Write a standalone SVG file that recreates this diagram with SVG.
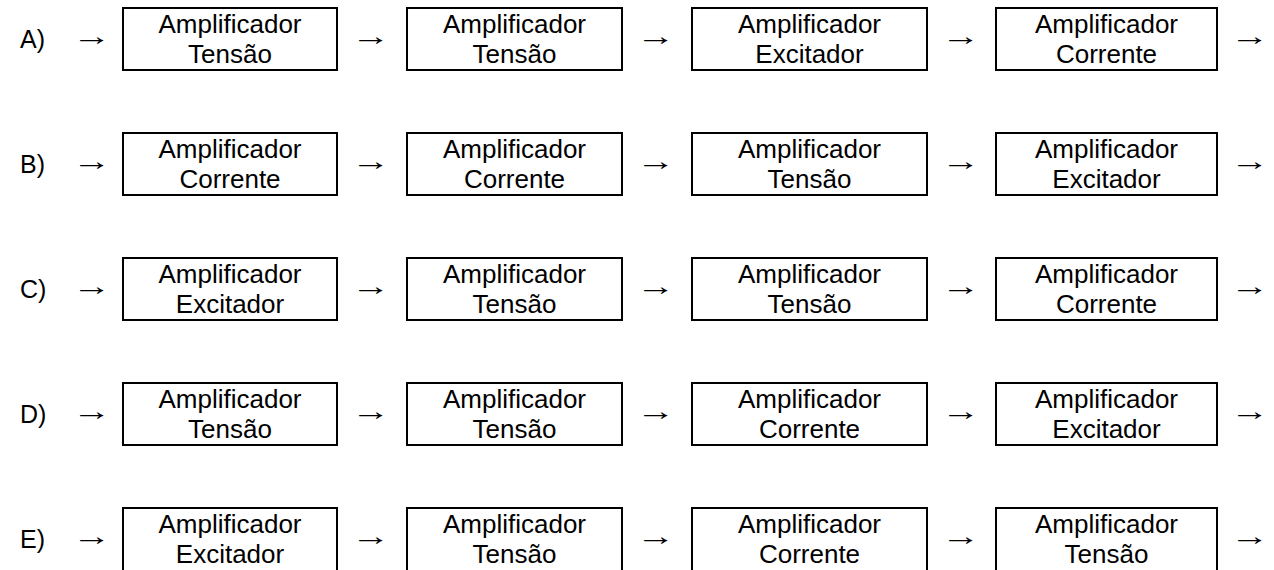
<svg xmlns="http://www.w3.org/2000/svg" xmlns:xlink="http://www.w3.org/1999/xlink" width="1274" height="570" viewBox="0 0 1274 570">
<style>
text{font-family:"Liberation Sans",Arial,sans-serif;font-size:26px;fill:#000}
.t{text-anchor:middle}
.lbl{font-size:25px}
.box{fill:#fff;stroke:#000;stroke-width:2}
</style>
<defs>
<text id="arr" text-anchor="middle" transform="scale(1.5,1)">→</text>
</defs>
<rect width="1274" height="570" fill="#fff"/>
<g id="labels">
<text class="lbl" x="20" y="48">A)</text>
<text class="lbl" x="20" y="173">B)</text>
<text class="lbl" x="20" y="298">C)</text>
<text class="lbl" x="20" y="423">D)</text>
<text class="lbl" x="20" y="548">E)</text>
</g>
<g id="connectors">
<g transform="translate(0,45)"><use href="#arr" transform="translate(92,0)"/><use href="#arr" transform="translate(371,0)"/><use href="#arr" transform="translate(656,0)"/><use href="#arr" transform="translate(961,0)"/><use href="#arr" transform="translate(1250,0)"/></g>
<g transform="translate(0,170)"><use href="#arr" transform="translate(92,0)"/><use href="#arr" transform="translate(371,0)"/><use href="#arr" transform="translate(656,0)"/><use href="#arr" transform="translate(961,0)"/><use href="#arr" transform="translate(1250,0)"/></g>
<g transform="translate(0,295)"><use href="#arr" transform="translate(92,0)"/><use href="#arr" transform="translate(371,0)"/><use href="#arr" transform="translate(656,0)"/><use href="#arr" transform="translate(961,0)"/><use href="#arr" transform="translate(1250,0)"/></g>
<g transform="translate(0,420)"><use href="#arr" transform="translate(92,0)"/><use href="#arr" transform="translate(371,0)"/><use href="#arr" transform="translate(656,0)"/><use href="#arr" transform="translate(961,0)"/><use href="#arr" transform="translate(1250,0)"/></g>
<g transform="translate(0,545)"><use href="#arr" transform="translate(92,0)"/><use href="#arr" transform="translate(371,0)"/><use href="#arr" transform="translate(656,0)"/><use href="#arr" transform="translate(961,0)"/><use href="#arr" transform="translate(1250,0)"/></g>
</g>
<g id="A1"><rect class="box" x="123" y="8" width="214" height="62"/><text class="t" x="230" y="33">Amplificador</text><text class="t" x="230" y="63">Tensão</text></g>
<g id="A2"><rect class="box" x="407" y="8" width="215" height="62"/><text class="t" x="514.5" y="33">Amplificador</text><text class="t" x="514.5" y="63">Tensão</text></g>
<g id="A3"><rect class="box" x="692" y="8" width="235" height="62"/><text class="t" x="809.5" y="33">Amplificador</text><text class="t" x="809.5" y="63">Excitador</text></g>
<g id="A4"><rect class="box" x="996" y="8" width="221" height="62"/><text class="t" x="1106.5" y="33">Amplificador</text><text class="t" x="1106.5" y="63">Corrente</text></g>

<g id="B1"><rect class="box" x="123" y="133" width="214" height="62"/><text class="t" x="230" y="158">Amplificador</text><text class="t" x="230" y="188">Corrente</text></g>
<g id="B2"><rect class="box" x="407" y="133" width="215" height="62"/><text class="t" x="514.5" y="158">Amplificador</text><text class="t" x="514.5" y="188">Corrente</text></g>
<g id="B3"><rect class="box" x="692" y="133" width="235" height="62"/><text class="t" x="809.5" y="158">Amplificador</text><text class="t" x="809.5" y="188">Tensão</text></g>
<g id="B4"><rect class="box" x="996" y="133" width="221" height="62"/><text class="t" x="1106.5" y="158">Amplificador</text><text class="t" x="1106.5" y="188">Excitador</text></g>

<g id="C1"><rect class="box" x="123" y="258" width="214" height="62"/><text class="t" x="230" y="283">Amplificador</text><text class="t" x="230" y="313">Excitador</text></g>
<g id="C2"><rect class="box" x="407" y="258" width="215" height="62"/><text class="t" x="514.5" y="283">Amplificador</text><text class="t" x="514.5" y="313">Tensão</text></g>
<g id="C3"><rect class="box" x="692" y="258" width="235" height="62"/><text class="t" x="809.5" y="283">Amplificador</text><text class="t" x="809.5" y="313">Tensão</text></g>
<g id="C4"><rect class="box" x="996" y="258" width="221" height="62"/><text class="t" x="1106.5" y="283">Amplificador</text><text class="t" x="1106.5" y="313">Corrente</text></g>

<g id="D1"><rect class="box" x="123" y="383" width="214" height="62"/><text class="t" x="230" y="408">Amplificador</text><text class="t" x="230" y="438">Tensão</text></g>
<g id="D2"><rect class="box" x="407" y="383" width="215" height="62"/><text class="t" x="514.5" y="408">Amplificador</text><text class="t" x="514.5" y="438">Tensão</text></g>
<g id="D3"><rect class="box" x="692" y="383" width="235" height="62"/><text class="t" x="809.5" y="408">Amplificador</text><text class="t" x="809.5" y="438">Corrente</text></g>
<g id="D4"><rect class="box" x="996" y="383" width="221" height="62"/><text class="t" x="1106.5" y="408">Amplificador</text><text class="t" x="1106.5" y="438">Excitador</text></g>

<g id="E1"><rect class="box" x="123" y="508" width="214" height="64"/><text class="t" x="230" y="533">Amplificador</text><text class="t" x="230" y="563">Excitador</text></g>
<g id="E2"><rect class="box" x="407" y="508" width="215" height="64"/><text class="t" x="514.5" y="533">Amplificador</text><text class="t" x="514.5" y="563">Tensão</text></g>
<g id="E3"><rect class="box" x="692" y="508" width="235" height="64"/><text class="t" x="809.5" y="533">Amplificador</text><text class="t" x="809.5" y="563">Corrente</text></g>
<g id="E4"><rect class="box" x="996" y="508" width="221" height="64"/><text class="t" x="1106.5" y="533">Amplificador</text><text class="t" x="1106.5" y="563">Tensão</text></g>
</svg>
